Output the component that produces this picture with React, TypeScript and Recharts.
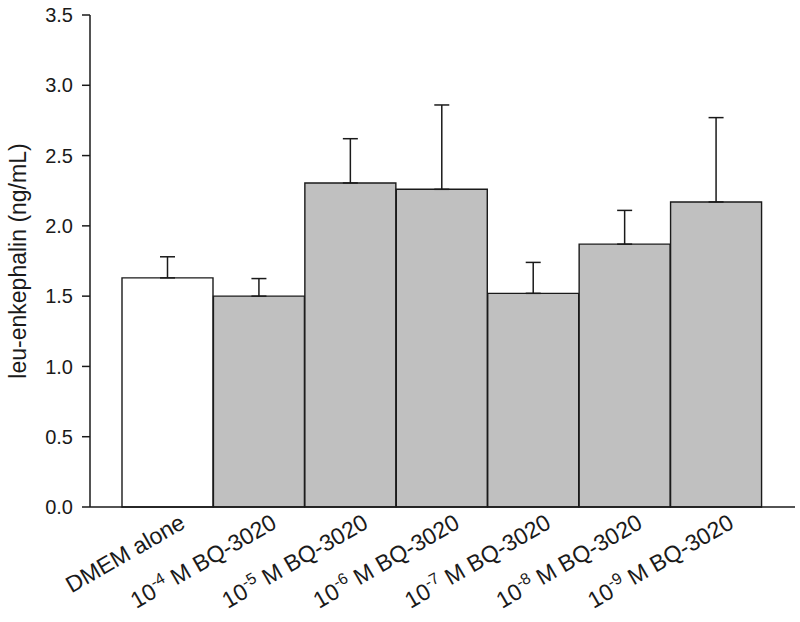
import { BarChart, Bar, XAxis, YAxis, ErrorBar, Cell } from "recharts";

const groups = ["DMEM alone", "-4", "-5", "-6", "-7", "-8", "-9"];
const means = [1.63, 1.5, 2.305, 2.26, 1.52, 1.87, 2.17];
const sems = [0.15, 0.125, 0.315, 0.6, 0.22, 0.24, 0.6];
const fills = ["#ffffff", "#c0c0c0", "#c0c0c0", "#c0c0c0", "#c0c0c0", "#c0c0c0", "#c0c0c0"];
const yTicks = [0, 0.5, 1, 1.5, 2, 2.5, 3, 3.5];

const data = groups.map((g, i) => ({ group: g, mean: means[i], err: [0, sems[i]] }));

const FONT = "Liberation Sans, Arial, sans-serif";
const INK = "#1a1a1a";

function GroupTick(props: any) {
  const { x, y, payload } = props;
  const ax = x + 19;
  const ay = y + 20;
  const v: string = payload.value;
  return (
    <text
      x={ax}
      y={ay}
      transform={`rotate(-30, ${ax}, ${ay})`}
      textAnchor="end"
      fontFamily={FONT}
      fontSize={23}
      fill={INK}
    >
      {v.startsWith("-") ? (
        <>
          <tspan>10</tspan>
          <tspan fontSize={16} dy={-9}>{v}</tspan>
          <tspan dy={9}> M BQ-3020</tspan>
        </>
      ) : (
        v
      )}
    </text>
  );
}

function YLabel(props: any) {
  const vb = props.viewBox;
  const bx = 26;
  const cy = vb.y + vb.height / 2;
  return (
    <text
      x={bx}
      y={cy}
      transform={`rotate(-90, ${bx}, ${cy})`}
      textAnchor="middle"
      fontFamily={FONT}
      fontSize={23}
      fill={INK}
    >
      leu-enkephalin (ng/mL)
    </text>
  );
}

export default function App() {
  return (
    <div style={{ width: 800, height: 622, background: "#fff" }}>
      <style>{"body{margin:0}"}</style>
      <BarChart
        width={800}
        height={622}
        data={data}
        margin={{ top: 15, right: 5, left: 0, bottom: 0 }}
        barCategoryGap={0}
        barGap={0}
      >
        <XAxis
          dataKey="group"
          height={115}
          tickLine={false}
          tickSize={0}
          tickMargin={0}
          interval={0}
          padding={{ left: 32, right: 33 }}
          stroke={INK}
          strokeWidth={1.5}
          tick={<GroupTick />}
        />
        <YAxis
          width={90}
          domain={[0, 3.5]}
          ticks={yTicks}
          tickFormatter={(v: number) => v.toFixed(1)}
          tickSize={8}
          tickMargin={9}
          stroke={INK}
          strokeWidth={1.5}
          tick={{ fill: INK, fontSize: 20, fontFamily: FONT }}
          label={<YLabel />}
        />
        <Bar dataKey="mean" stroke={INK} strokeWidth={1.4} isAnimationActive={false}>
          {data.map((d, i) => (
            <Cell key={d.group} fill={fills[i]} />
          ))}
          <ErrorBar dataKey="err" width={7.5} stroke={INK} strokeWidth={1.5} direction="y" />
        </Bar>
      </BarChart>
    </div>
  );
}
